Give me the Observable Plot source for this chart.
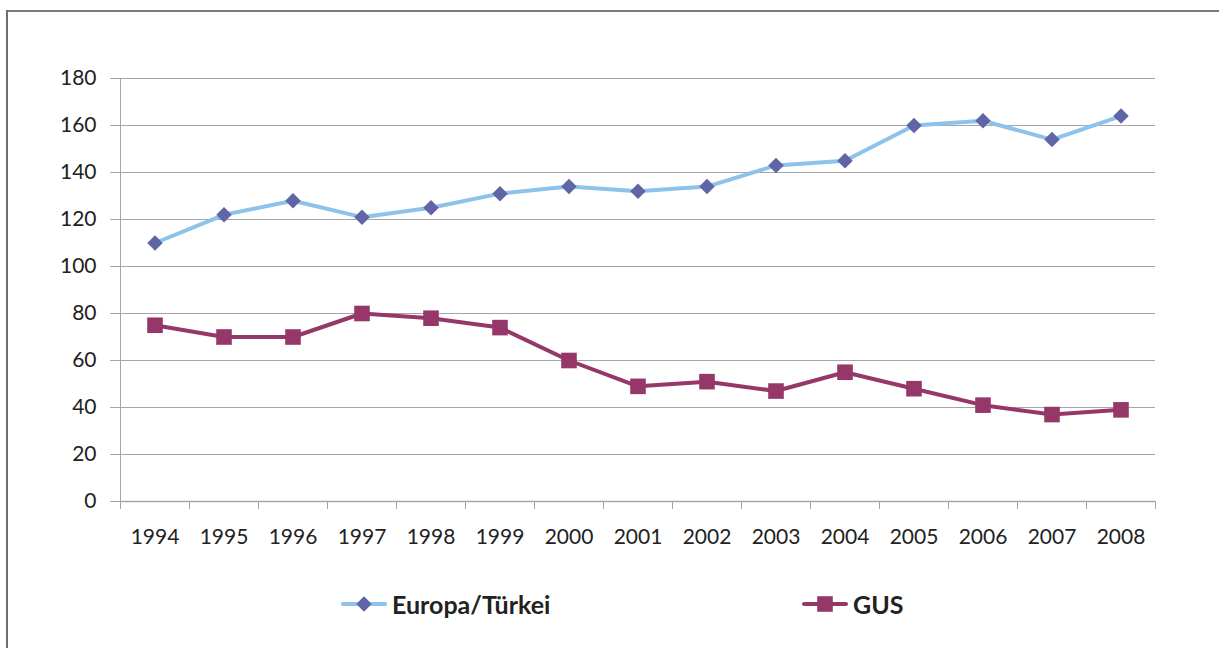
<!DOCTYPE html>
<html><head><meta charset="utf-8">
<script src="https://cdn.jsdelivr.net/npm/d3@7"></script>
<script src="https://cdn.jsdelivr.net/npm/@observablehq/plot@0.6"></script>
<style>
html,body{margin:0;padding:0;background:#fff;}
#wrap{position:relative;width:1219px;height:648px;overflow:hidden;font-family:Lato,"Open Sans",sans-serif;}
#frameTop{position:absolute;left:6px;top:10px;width:1213px;height:0;border-top:2px solid #7a7a7a;}
#frameLeft{position:absolute;left:6px;top:10px;width:0;height:660px;border-left:2px solid #6e6e6e;}
#chart{position:absolute;left:0;top:0;}
.leg{position:absolute;top:589px;height:30px;display:flex;align-items:center;font-weight:700;font-size:25px;color:#222;}
.leg svg{margin-right:5px;}
</style></head>
<body><div id="wrap"><div id="frameTop"></div><div id="frameLeft"></div><div id="chart"></div>
<div class="leg" id="leg1"></div><div class="leg" id="leg2"></div></div>
<script>
const years = [1994,1995,1996,1997,1998,1999,2000,2001,2002,2003,2004,2005,2006,2007,2008];
const europa = [110,122,128,121,125,131,134,132,134,143,145,160,162,154,164];
const gus = [75,70,70,80,78,74,60,49,51,47,55,48,41,37,39];
const yTicks = [0,20,40,60,80,100,120,140,160,180];
const seriesNames = ["Europa/Türkei","GUS"];
const lineColors = ["#8dc3eb","#953869"];
const markColors = ["#5f65a6","#953869"];
const symbols = ["diamond2","square"];

const rows = years.flatMap((y,i)=>[
  {year:y, series:seriesNames[0], value:europa[i]},
  {year:y, series:seriesNames[1], value:gus[i]}
]);
const boundaries = years.map(y=>y-0.5).concat([years[years.length-1]+0.5]);

const plot = Plot.plot({
  width:1219, height:580,
  marginLeft:120, marginRight:64, marginTop:78, marginBottom:79,
  x:{type:"linear", domain:[years[0]-0.5, years[years.length-1]+0.5]},
  y:{domain:[0,180]},
  style:{fontFamily:"Lato, 'Open Sans', sans-serif", fontSize:"21px", color:"#222", background:"transparent"},
  marks:[
    Plot.gridY(yTicks,{stroke:"#a6a6a6", strokeOpacity:1, strokeWidth:1}),
    Plot.ruleX([years[0]-0.5],{stroke:"#a6a6a6", strokeWidth:1}),
    Plot.ruleY([0],{stroke:"#a6a6a6", strokeWidth:1.3}),
    Plot.axisY(yTicks,{tickSize:10, tickPadding:14, stroke:"#a6a6a6", fill:"#222", tickFormat:d=>String(d), label:null}),
    Plot.axisX(boundaries,{tickSize:8, stroke:"#a6a6a6", tickFormat:()=>"", label:null}),
    Plot.axisX(years,{tickSize:0, tickPadding:28, fill:"#222", tickFormat:d=>String(d), label:null}),
    Plot.line(rows.filter(d=>d.series===seriesNames[0]),{x:"year", y:"value", stroke:lineColors[0], strokeWidth:4}),
    Plot.line(rows.filter(d=>d.series===seriesNames[1]),{x:"year", y:"value", stroke:lineColors[1], strokeWidth:4}),
    Plot.dot(rows.filter(d=>d.series===seriesNames[0]),{x:"year", y:"value", symbol:symbols[0], r:7, fill:markColors[0], stroke:"none"}),
    Plot.dot(rows.filter(d=>d.series===seriesNames[1]),{x:"year", y:"value", symbol:symbols[1], r:8.8, fill:markColors[1], stroke:"none"})
  ]
});
document.getElementById("chart").appendChild(plot);

function legendItem(el, left, i){
  el.style.left = left + "px";
  const sym = d3.symbol(i===0 ? d3.symbolDiamond2 : d3.symbolSquare, i===0 ? 7*7*Math.PI : 8.8*8.8*Math.PI)();
  el.innerHTML = `<svg width="46" height="30" viewBox="0 0 46 30"><line x1="2" x2="44" y1="15" y2="15" stroke="${lineColors[i]}" stroke-width="4" stroke-linecap="round"/><path transform="translate(23,15)" d="${sym}" fill="${markColors[i]}"/></svg><span>${seriesNames[i]}</span>`;
}
legendItem(document.getElementById("leg1"), 341, 0);
legendItem(document.getElementById("leg2"), 802, 1);
</script></body></html>
